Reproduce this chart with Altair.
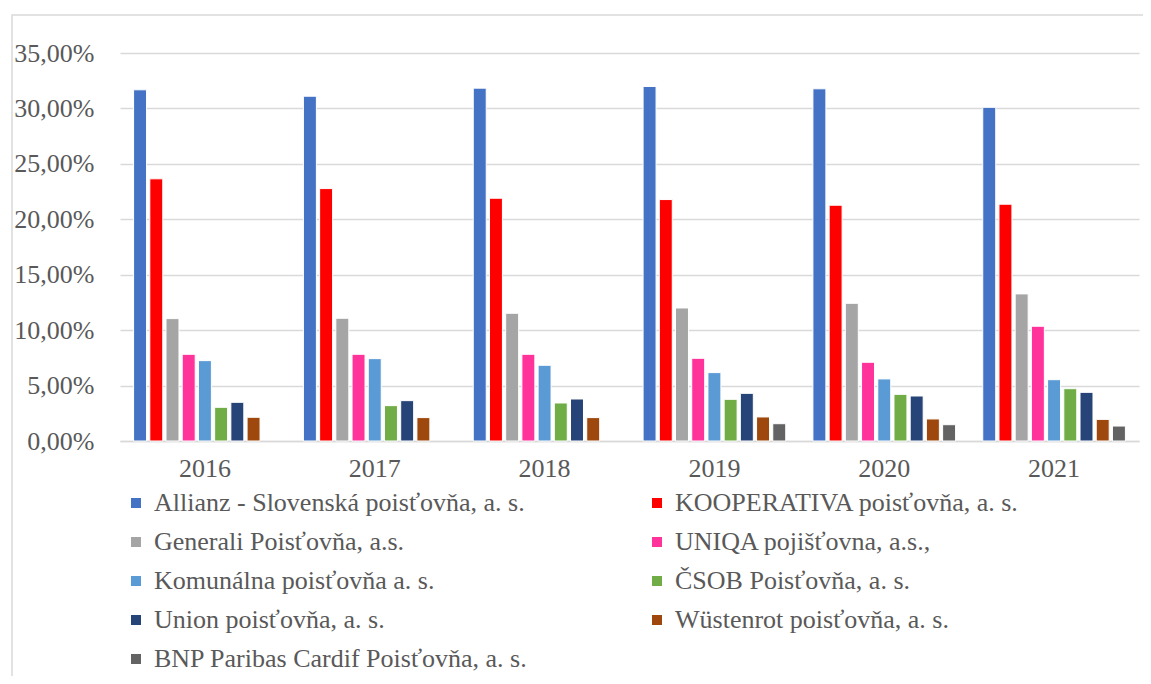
import altair as alt
import pandas as pd

years = ["2016", "2017", "2018", "2019", "2020", "2021"]
companies = [
    "Allianz - Slovenská poisťovňa, a. s.",
    "KOOPERATIVA poisťovňa, a. s.",
    "Generali Poisťovňa, a.s.",
    "UNIQA pojišťovna, a.s.,",
    "Komunálna poisťovňa a. s.",
    "ČSOB Poisťovňa, a. s.",
    "Union poisťovňa, a. s.",
    "Wüstenrot poisťovňa, a. s.",
    "BNP Paribas Cardif Poisťovňa, a. s.",
]
colors = ["#4472C4", "#FF0000", "#A5A5A5", "#FF3399", "#5B9BD5",
          "#70AD47", "#264478", "#9E480E", "#636363"]

allianz = [0.3168, 0.3110, 0.3183, 0.3198, 0.3177, 0.3010]
kooperativa = [0.2365, 0.2277, 0.2190, 0.2178, 0.2127, 0.2136]
generali = [0.1104, 0.1107, 0.1152, 0.1200, 0.1242, 0.1327]
uniqa = [0.0782, 0.0782, 0.0782, 0.0746, 0.0710, 0.1035]
komunalna = [0.0725, 0.0743, 0.0683, 0.0617, 0.0560, 0.0553]
csob = [0.0304, 0.0319, 0.0343, 0.0376, 0.0421, 0.0472]
union = [0.0349, 0.0364, 0.0379, 0.0430, 0.0406, 0.0439]
wustenrot = [0.0214, 0.0211, 0.0211, 0.0217, 0.0199, 0.0195]
bnp = [None, None, None, 0.0156, 0.0147, 0.0135]

series = [allianz, kooperativa, generali, uniqa, komunalna, csob, union, wustenrot, bnp]

rows = []
for comp, vals in zip(companies, series):
    for y, v in zip(years, vals):
        if v is not None:
            rows.append({"year": y, "company": comp, "value": v})
df = pd.DataFrame(rows)

font = "Liberation Serif"
grey = "#595959"

bars = alt.Chart(df).mark_bar(stroke="white", strokeWidth=1).encode(
    x=alt.X("year:N", sort=years, title=None,
            scale=alt.Scale(paddingInner=0.16, paddingOuter=0.08),
            axis=alt.Axis(labelAngle=0, labelPadding=14, ticks=False,
                          domainColor="#d9d9d9", domainWidth=1.5,
                          labelFont=font, labelFontSize=26, labelColor=grey)),
    xOffset=alt.XOffset("company:N", sort=companies,
                        scale=alt.Scale(paddingInner=0.2, paddingOuter=0)),
    y=alt.Y("value:Q", title=None,
            scale=alt.Scale(domain=[0, 0.35], nice=False),
            axis=alt.Axis(values=[0, 0.05, 0.1, 0.15, 0.2, 0.25, 0.3, 0.35],
                          labelExpr="replace(format(datum.value, '.2%'), '.', ',')",
                          domain=False, ticks=False, labelPadding=26,
                          gridColor="#d9d9d9", gridWidth=1.5,
                          labelFont=font, labelFontSize=26, labelColor=grey)),
    color=alt.Color("company:N", sort=companies,
                    scale=alt.Scale(domain=companies, range=colors),
                    legend=alt.Legend(title=None, orient="none", legendX=3, legendY=437,
                                      direction="horizontal",
                                      columns=2, gridAlign="all", columnPadding=116,
                                      symbolType="square", symbolSize=100,
                                      symbolStrokeWidth=0, rowPadding=13,
                                      labelFontSize=26, labelFont=font,
                                      labelColor=grey, labelLimit=600,
                                      labelOffset=5, padding=0)),
)

frame = alt.Chart(pd.DataFrame({"a": [0]})).mark_rect(
    fill=None, stroke="#d9d9d9", strokeWidth=1.5
).encode(
    x=alt.value(-108), x2=alt.value(1040), y=alt.value(-38), y2=alt.value(700)
)

chart = alt.layer(frame, bars).properties(
    width=1019, height=388,
    background="white",
    autosize=alt.AutoSizeParams(type="none"),
    padding={"left": 112, "top": 45, "right": 4, "bottom": 235},
).configure_view(stroke=None)

chart.save("out.html", embed_options={"renderer": "svg", "actions": False})
